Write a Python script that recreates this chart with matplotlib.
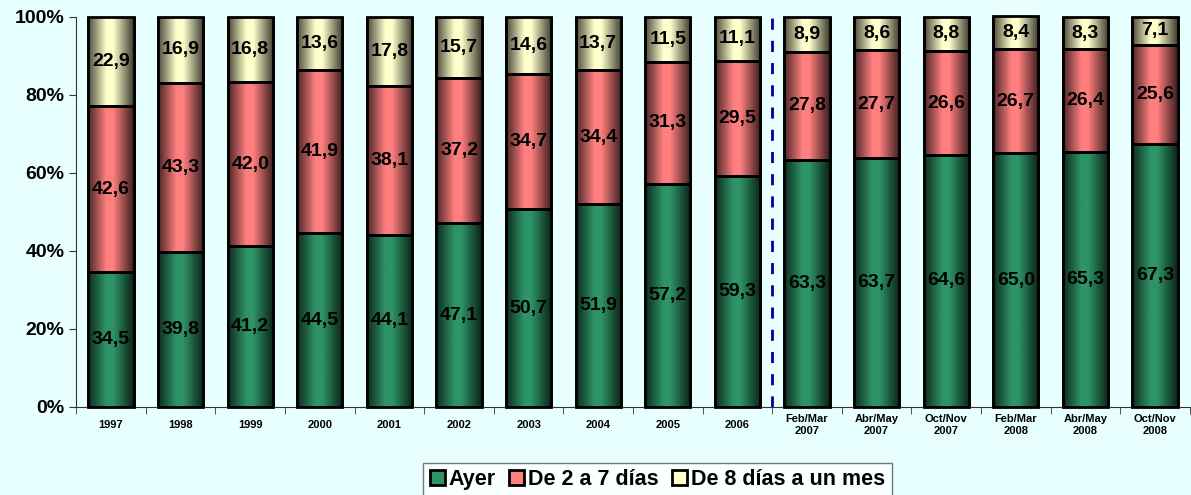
import matplotlib.pyplot as plt
import matplotlib.colors as mcolors
import numpy as np

plt.rcParams['font.family'] = ['Liberation Sans', 'DejaVu Sans']

categories = ['1997', '1998', '1999', '2000', '2001', '2002', '2003', '2004', '2005', '2006',
              'Feb/Mar\n2007', 'Abr/May\n2007', 'Oct/Nov\n2007', 'Feb/Mar\n2008', 'Abr/May\n2008', 'Oct/Nov\n2008']
ayer = [34.5, 39.8, 41.2, 44.5, 44.1, 47.1, 50.7, 51.9, 57.2, 59.3, 63.3, 63.7, 64.6, 65.0, 65.3, 67.3]
de2a7 = [42.6, 43.3, 42.0, 41.9, 38.1, 37.2, 34.7, 34.4, 31.3, 29.5, 27.8, 27.7, 26.6, 26.7, 26.4, 25.6]
de8 = [22.9, 16.9, 16.8, 13.6, 17.8, 15.7, 14.6, 13.7, 11.5, 11.1, 8.9, 8.6, 8.8, 8.4, 8.3, 7.1]

series = [('Ayer', ayer, '#2E9466'),
          ('De 2 a 7 días', de2a7, '#FF7F7F'),
          ('De 8 días a un mes', de8, '#FFFFCC')]

bg = '#E8FFFF'
fig = plt.figure(figsize=(11.91, 4.95), dpi=100, facecolor=bg)
ax = fig.add_axes([0.064, 0.178, 0.935, 0.788])
ax.set_facecolor(bg)

x = np.arange(len(categories))
width = 0.65
bottom = np.zeros(len(categories))


def shade(c):
    # dark edges, light centre: rough cylinder look
    rgb = np.array(mcolors.to_rgb(c))
    dark = rgb * 0.3
    return mcolors.LinearSegmentedColormap.from_list(
        'cyl', [(0, dark), (0.4, rgb), (0.55, rgb), (1, dark * 0.8)])


for name, vals, col in series:
    vals = np.array(vals)
    bars = ax.bar(x, vals, width, bottom=bottom, color=col, edgecolor='black',
                  linewidth=2, label=name, zorder=3)
    cmap = shade(col)
    grad = np.linspace(0, 1, 64).reshape(1, -1)
    for b in bars:
        x0, y0 = b.get_x(), b.get_y()
        im = ax.imshow(grad, cmap=cmap, aspect='auto', zorder=3.5,
                       extent=[x0, x0 + b.get_width(), y0, y0 + b.get_height()])
        im.set_clip_path(b)
        ax.add_patch(plt.Rectangle((x0, y0), b.get_width(), b.get_height(), fill=False,
                                   edgecolor='black', linewidth=2, zorder=4, clip_on=False))
    for xi, bo, v in zip(x, bottom, vals):
        ax.text(xi, bo + v / 2, f'{v:.1f}'.replace('.', ','), ha='center', va='center',
                fontsize=14, fontweight='bold', zorder=5)
    bottom += vals

ax.axvline(9.5, color='#000099', linestyle=(0, (4, 4)), linewidth=2, zorder=2)

ax.set_xlim(-0.5, len(categories) - 0.5)
ax.set_ylim(0, 100)
ax.set_yticks(range(0, 101, 20))
ax.set_yticklabels([f'{v}%' for v in range(0, 101, 20)], fontsize=14, fontweight='bold')
ax.set_xticks(x)
ax.set_xticklabels(categories, fontsize=8, fontweight='bold', va='center')
ax.set_xticks(np.arange(-0.5, len(categories), 1), minor=True)
ax.tick_params(axis='x', which='major', length=0, pad=13)
ax.tick_params(axis='x', which='minor', length=5, color='#333333')
ax.tick_params(axis='y', length=5, color='#333333')
for s in ['top', 'right']:
    ax.spines[s].set_visible(False)
ax.spines['left'].set_color('#333333')
ax.spines['bottom'].set_color('#333333')

leg = fig.legend(loc='lower center', bbox_to_anchor=(0.552, -0.025), ncol=3,
                 prop={'weight': 'bold', 'size': 15.5}, frameon=True, fancybox=False,
                 edgecolor='#555555', handlelength=0.7, handleheight=0.7,
                 handletextpad=0.2, columnspacing=0.6, borderpad=0.3)
leg.get_frame().set_facecolor('white')

fig.savefig('out.png', dpi=100, facecolor=bg)
